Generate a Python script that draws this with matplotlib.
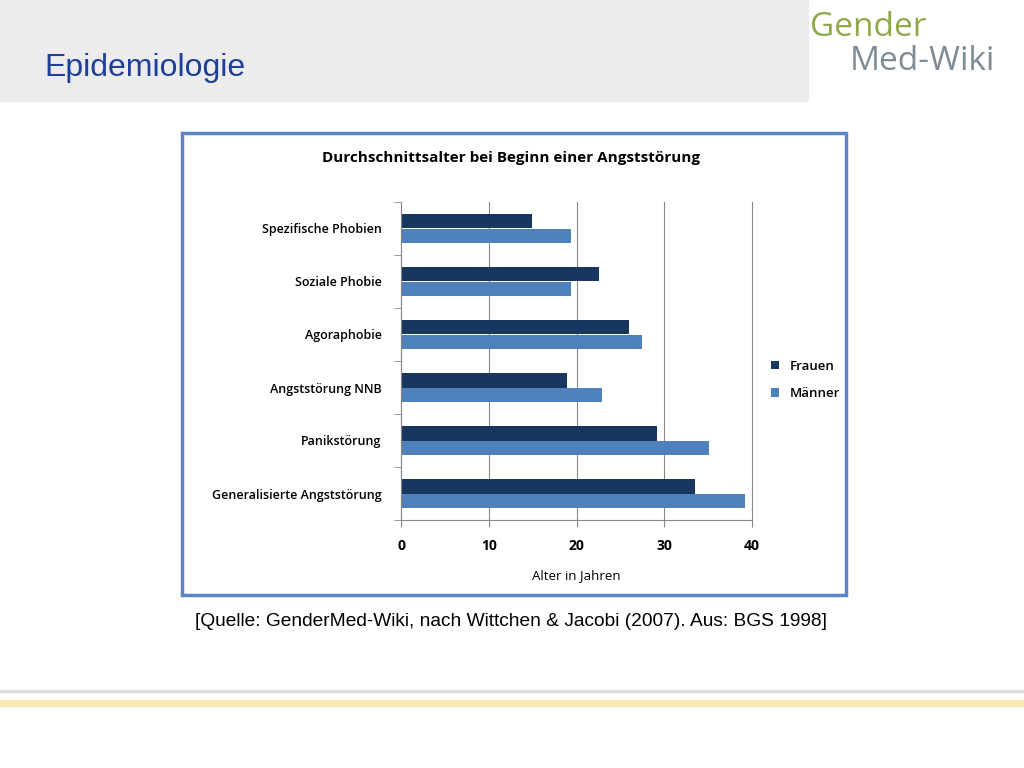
import matplotlib
matplotlib.use("Agg")
import matplotlib.pyplot as plt
import numpy as np
from matplotlib.patches import Rectangle

categories = ["Spezifische Phobien", "Soziale Phobie", "Agoraphobie",
              "Angststörung NNB", "Panikstörung", "Generalisierte Angststörung"]
frauen = [14.9, 22.6, 26.0, 18.9, 29.2, 33.5]
maenner = [19.4, 19.4, 27.5, 22.9, 35.1, 39.2]
xticks = [0, 10, 20, 30, 40]

fig = plt.figure(figsize=(10.24, 7.68), dpi=100)
W, H = 1024, 768
def fx(x): return x / W
def fy(y): return 1 - y / H

fig.patches.append(Rectangle((0, fy(101)), fx(808), 101 / H, transform=fig.transFigure,
                             color="#ececec", zorder=-5))
fig.text(fx(44), fy(68), "Epidemiologie", fontsize=23, color="#1f3f99", va="center",
         family="Liberation Sans")
fig.text(fx(810), fy(28), "Gender", fontsize=24, color="#8fa84a", va="center", family="Open Sans")
fig.text(fx(850), fy(62), "Med-Wiki", fontsize=24, color="#7f8c96", va="center", family="Open Sans")

fig.patches.append(Rectangle((0, fy(692)), 1, 2 / H, transform=fig.transFigure, color="#dddddd", zorder=-5))
fig.patches.append(Rectangle((0, fy(706)), 1, 6 / H, transform=fig.transFigure, color="#fbe9b5", zorder=-5))

fig.patches.append(Rectangle((fx(182), fy(595)), fx(846 - 182), (595 - 133) / H,
                             transform=fig.transFigure, facecolor="white",
                             edgecolor="#5b84c4", linewidth=2.5, zorder=-5))
fig.text(fx(511), fy(158), "Durchschnittsalter bei Beginn einer Angststörung",
         fontsize=11, fontweight="bold", ha="center", va="center", family="Open Sans")

ax = fig.add_axes([fx(401), fy(520), fx(752 - 401), (520 - 202) / H])
ax.set_zorder(5)
ax.patch.set_alpha(0)
y = np.arange(len(categories))
h = 0.28
ax.barh(y - h / 2, frauen, height=h, color="#17375e", label="Frauen")
ax.barh(y + h / 2, maenner, height=h, color="#4f81bd", label="Männer")
ax.set_ylim(len(categories) - 0.5, -0.5)
ax.set_xlim(0, 40)
ax.set_xticks(xticks)
ax.set_xticklabels([str(t) for t in xticks], fontweight="bold", fontsize=10, family="Open Sans")
ax.set_yticks(y)
ax.set_yticklabels(categories, fontsize=9, family="Open Sans", fontweight="semibold")
ax.set_yticks(np.arange(len(categories) + 1) - 0.5, minor=True)
ax.tick_params(axis="y", which="major", length=0, pad=14)
ax.tick_params(axis="y", which="minor", length=5, color="#888888")
ax.tick_params(axis="x", length=5, color="#888888", pad=9)
ax.grid(axis="x", color="#888888", linewidth=0.8)
for gl in ax.get_xgridlines():
    gl.set_clip_on(False)
ax.set_axisbelow(True)
for s in ["top", "right"]:
    ax.spines[s].set_visible(False)
ax.spines["left"].set_color("#888888")
ax.spines["bottom"].set_color("#888888")
ax.set_xlabel("Alter in Jahren", fontsize=9.5, family="Open Sans", labelpad=11)
ax.legend(loc="center left", bbox_to_anchor=(1.02, 0.44), frameon=False,
          prop={"family": "Open Sans", "size": 9.5, "weight": "semibold"},
          handlelength=0.6, handleheight=0.6, labelspacing=1.1)

fig.text(fx(511), fy(621), "[Quelle: GenderMed-Wiki, nach Wittchen & Jacobi (2007). Aus: BGS 1998]",
         fontsize=13.8, ha="center", va="center", family="Liberation Sans")

fig.savefig("out.png", dpi=100)
